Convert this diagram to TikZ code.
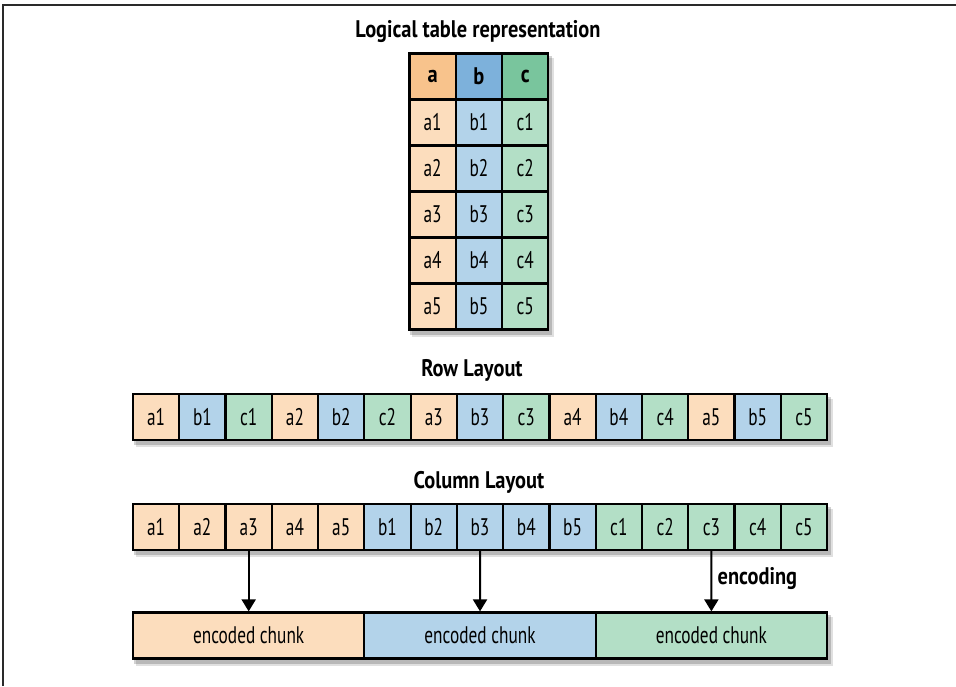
\documentclass[tikz,border=0pt]{standalone}
\usepackage{fontspec}
\setmainfont{PT Sans}[FakeStretch=0.72, BoldFeatures={FakeStretch=0.85}]
\usetikzlibrary{arrows.meta,backgrounds}
\definecolor{heada}{HTML}{F8C38C}
\definecolor{headb}{HTML}{7DB1DB}
\definecolor{headc}{HTML}{79C59D}
\definecolor{bodya}{HTML}{FCDDBD}
\definecolor{bodyb}{HTML}{B3D3EA}
\definecolor{bodyc}{HTML}{B3DFC6}
\definecolor{framecol}{HTML}{2A2A2A}
\begin{document}
\begin{tikzpicture}[x=1pt,y=1pt,
  cell/.style={draw=black, line width=2.2pt, minimum width=46.27pt, minimum height=46pt,
    inner sep=0pt, anchor=center, font=\fontsize{24}{26}\selectfont},
  chunk/.style={cell, minimum width=231.35pt},
  title/.style={font=\fontsize{24}{26}\selectfont\bfseries},
  arr/.style={line width=2pt, -{Triangle[width=14pt,length=12pt]}},
  shadowA/.style={fill=black, opacity=0.12},
  shadowB/.style={fill=black, opacity=0.18}]
\useasboundingbox (0,0) rectangle (956,686);
% frame
\draw[framecol, line width=2pt] (3.3,0) -- (3.3,681) -- (956,681);

% title
\node[title] (ttl) at (478,654) {Logical table representation};

% logical table
\foreach \c [count=\i from 0] in {a,b,c} {
  \node[cell, fill=head\c, font=\fontsize{24}{26}\selectfont\bfseries] (t\c0)
    at ({409.5+46.27*(\i+0.5)},{686-(53.5+23)}) {\c};
  \foreach \r in {1,...,5} {
    \node[cell, fill=body\c] (t\c\r) at ({409.5+46.27*(\i+0.5)},{686-(53.5+46*(\r+0.5))}) {\c\r};
  }
}

% row layout
\node[title] (rowt) at (472,316) {Row Layout};
\foreach \t/\c [count=\i from 0] in {a1/a,b1/b,c1/c,a2/a,b2/b,c2/c,a3/a,b3/b,c3/c,a4/a,b4/b,c4/c,a5/a,b5/b,c5/c} {
  \node[cell, fill=body\c] (r\i) at ({133+46.27*(\i+0.5)},{686-417}) {\t};
}

% column layout
\node[title] (colt) at (479,204) {Column Layout};
\foreach \t/\c [count=\i from 0] in {a1/a,a2/a,a3/a,a4/a,a5/a,b1/b,b2/b,b3/b,b4/b,b5/b,c1/c,c2/c,c3/c,c4/c,c5/c} {
  \node[cell, fill=body\c] (k\i) at ({133+46.27*(\i+0.5)},{686-527}) {\t};
}

% encoded chunks
\foreach \c [count=\i from 0] in {a,b,c} {
  \node[chunk, fill=body\c] (e\c) at ({133+231.35*(\i+0.5)},{686-635.5}) {encoded chunk};
}

% arrows
\draw[arr] (k2.south) -- (ea.north);
\draw[arr] (k7.south) -- (eb.north);
\draw[arr] (k12.south) -- node[pos=0.45, right=2pt, title] {encoding} (ec.north);

% shadows
\begin{scope}[on background layer]
  \foreach \p/\q in {ta0/tc5, r0/r14, k0/k14, ea/ec} {
    \fill[shadowA] ([shift={(4,-6)}]\p.north west) rectangle ([shift={(5,-6)}]\q.south east);
    \fill[shadowB] ([shift={(2,-4)}]\p.north west) rectangle ([shift={(3,-4)}]\q.south east);
  }
\end{scope}
\end{tikzpicture}
\end{document}
